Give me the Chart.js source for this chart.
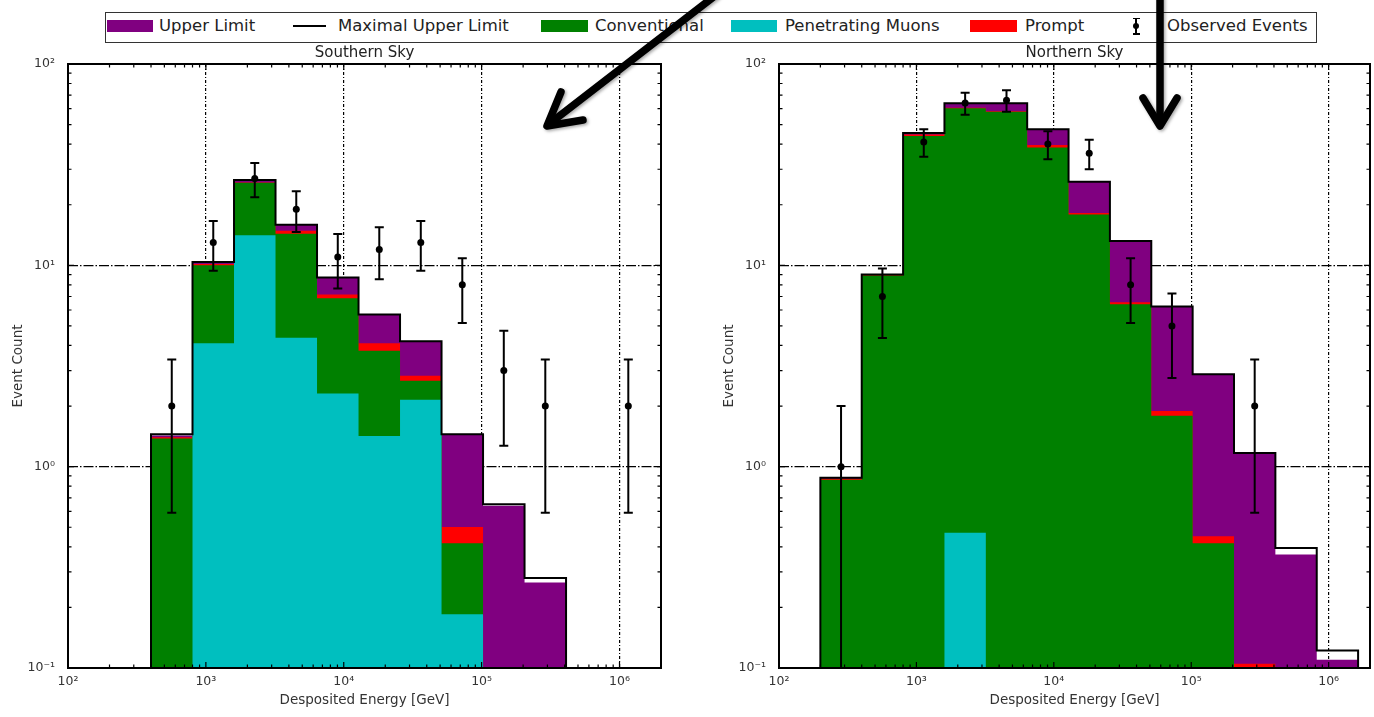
<!DOCTYPE html>
<html lang="en">
<head>
<meta charset="UTF-8">
<title>Event Count vs Deposited Energy</title>
<script src="https://cdn.jsdelivr.net/npm/chart.js@4.4.0/dist/chart.umd.min.js"></script>
<style>
  body { margin: 0; width: 1374px; height: 717px; background: #fff; position: relative; overflow: hidden; font-family: 'DejaVu Sans', sans-serif; }
  .panel { position: absolute; top: 40px; height: 677px; }
  #south-wrap { left: 0; width: 690px; }
  #north-wrap { left: 690px; width: 684px; }
  #legend-box { position: absolute; left: 105px; top: 12px; width: 1212px; height: 31px; border: 1.5px solid #333; box-sizing: border-box; }
  .lg-text { position: absolute; top: 17px; line-height: 18px; font-size: 16.5px; color: #222; white-space: nowrap; }
  .lg-swatch { position: absolute; top: 19.5px; height: 12.5px; }
  .lg-line { position: absolute; top: 25px; height: 1.5px; width: 33px; background: #000; }
  #arrows { position: absolute; left: 0; top: 0; pointer-events: none; }
</style>
</head>
<body>
  <div id="legend-box"></div>
  <div class="lg-swatch" style="left:107px;width:46px;background:#800080"></div>
  <div class="lg-text" style="left:159px">Upper Limit</div>
  <div class="lg-line" style="left:293px"></div>
  <div class="lg-text" style="left:338px">Maximal Upper Limit</div>
  <div class="lg-swatch" style="left:541px;width:47px;background:#008000"></div>
  <div class="lg-text" style="left:595px">Conventional</div>
  <div class="lg-swatch" style="left:731px;width:46px;background:#00bfbf"></div>
  <div class="lg-text" style="left:785px">Penetrating Muons</div>
  <div class="lg-swatch" style="left:970px;width:47px;background:#ff0000"></div>
  <div class="lg-text" style="left:1025px">Prompt</div>
  <!-- error bar marker -->
  <div style="position:absolute;left:1135.25px;top:18px;width:1.5px;height:16px;background:#000"></div>
  <div style="position:absolute;left:1132.5px;top:17.5px;width:7px;height:1.5px;background:#000"></div>
  <div style="position:absolute;left:1132.5px;top:33px;width:7px;height:1.5px;background:#000"></div>
  <div style="position:absolute;left:1133px;top:23px;width:6px;height:6px;border-radius:3px;background:#000"></div>
  <div class="lg-text" style="left:1167px">Observed Events</div>

  <div class="panel" id="south-wrap"><canvas id="southChart"></canvas></div>
  <div class="panel" id="north-wrap"><canvas id="northChart"></canvas></div>

  <svg id="arrows" width="1374" height="717">
    <defs>
      <filter id="shadow" x="-20%" y="-20%" width="140%" height="140%">
        <feDropShadow dx="1.5" dy="1.5" stdDeviation="1.5" flood-color="#000" flood-opacity="0.35"/>
      </filter>
    </defs>
    <g stroke="#000" stroke-width="7.5" stroke-linecap="round" stroke-linejoin="round" fill="none" filter="url(#shadow)">
      <line x1="716" y1="-5" x2="549" y2="124"/>
      <polyline points="561,92 547,126 583,120"/>
      <line x1="1160" y1="-5" x2="1160" y2="122"/>
      <polyline points="1143,98 1160,126 1177,98"/>
    </g>
  </svg>

<script>
// axis ticks (decades)
const xTicks = [1e2, 1e3, 1e4, 1e5, 1e6];
const yTicks = [0.1, 1, 10, 100];

// Southern sky: bin edges [GeV], stacked contributions per bin
const southEdges  = [400, 800, 1600, 3200, 6400, 12800, 25600, 51200, 102400, 204800, 409600, 819200, 1638400];
const southMuon   = [0, 4.1, 14.1, 4.37, 2.31, 1.42, 2.15, 0.185, 0, 0];
const southConv   = [1.38, 5.9, 11.6, 10.0, 4.56, 2.35, 0.52, 0.231, 0, 0];
const southPrompt = [0.02, 0.15, 0.1, 0.5, 0.29, 0.33, 0.16, 0.086, 0, 0];
const southAstro  = [0.03, 0.25, 0.7, 1.0, 1.52, 1.57, 1.37, 0.94, 0.64, 0.266];
const southMaxUL  = [1.45, 10.4, 26.5, 15.9, 8.7, 5.7, 4.2, 1.45, 0.65, 0.28];
const southObs    = [2, 13, 27, 19, 11, 12, 13, 8, 3, 2, null, 2];
const southObsErr = [1.41, 3.61, 5.2, 4.36, 3.32, 3.46, 3.61, 2.83, 1.73, 1.41, null, 1.41];

// Northern sky
const northEdges  = [200, 400, 800, 1600, 3200, 6400, 12800, 25600, 51200, 102400, 204800, 409600, 819200, 1638400];
const northMuon   = [0, 0, 0, 0.47, 0, 0, 0, 0, 0, 0, 0, 0, 0];
const northConv   = [0.86, 8.9, 43.9, 59.8, 58.0, 38.5, 17.9, 6.41, 1.79, 0.416, 0.09, 0, 0];
const northPrompt = [0.01, 0.05, 0.8, 0.3, 0.3, 1.1, 0.3, 0.15, 0.1, 0.035, 0.015, 0, 0];
const northAstro  = [0.01, 0.05, 0.7, 3.3, 5.6, 7.8, 7.8, 6.64, 4.35, 2.43, 1.065, 0.366, 0.11];
const northMaxUL  = [0.88, 9.0, 45.4, 63.9, 63.9, 47.4, 26.0, 13.2, 6.24, 2.88, 1.17, 0.395, 0.122];
const northObs    = [1, 7, 41, 64, 66, 40, 36, 8, 5, null, 2, null, null];
const northObsErr = [1.0, 2.65, 6.4, 8.0, 8.12, 6.32, 6.0, 2.83, 2.24, null, 1.41, null, null];

const COLORS = { astro: '#800080', conv: '#008000', muon: '#00bfbf', prompt: '#ff0000' };
const FLOOR = 0.01; // below the axis, for empty bins
const FONT = "'DejaVu Sans', sans-serif";
const SUP = { '-': '⁻', '0': '⁰', '1': '¹', '2': '²', '3': '³', '4': '⁴', '5': '⁵', '6': '⁶' };

function decadeLabel(v) {
    const e = String(Math.round(Math.log10(v)));
    return '10' + e.split('').map(c => SUP[c]).join('');
}

function cumulate(...parts) {
    return parts[0].map((_, i) => parts.reduce((s, p) => s + p[i], 0));
}

// histogram outline as step points at the bin edges
function stepPoints(edges, tops) {
    const pts = [{ x: edges[0], y: FLOOR }];
    tops.forEach((v, i) => pts.push({ x: edges[i], y: v > 0.0001 ? v : FLOOR }));
    pts.push({ x: edges[tops.length], y: FLOOR });
    return pts;
}

function obsPoints(edges, obs, err) {
    const pts = [];
    obs.forEach((n, i) => {
        if (n === null) return;
        pts.push({ x: Math.sqrt(edges[i] * edges[i + 1]), y: n, err: err[i] });
    });
    return pts;
}

function buildDatasets(edges, muon, conv, prompt, astro, maxUL, obs, err) {
    const fillSet = (label, tops, color, order) => ({
        label, data: stepPoints(edges, tops), stepped: 'before', fill: 'start',
        backgroundColor: color, borderColor: 'transparent', borderWidth: 0, pointRadius: 0, order
    });
    return [
        { label: 'Observed Events', data: obsPoints(edges, obs, err), showLine: false,
          pointRadius: 3.5, pointBackgroundColor: '#000', pointBorderColor: '#000', pointBorderWidth: 0, order: 0 },
        { label: 'Maximal Upper Limit', data: stepPoints(edges, maxUL), stepped: 'before', fill: false,
          borderColor: '#000', borderWidth: 2, pointRadius: 0, order: 1 },
        fillSet('Penetrating Muons', cumulate(muon), COLORS.muon, 2),
        fillSet('Conventional', cumulate(muon, conv), COLORS.conv, 3),
        fillSet('Prompt', cumulate(muon, conv, prompt), COLORS.prompt, 4),
        fillSet('Upper Limit', cumulate(muon, conv, prompt, astro), COLORS.astro, 5)
    ];
}

// frame with inward minor ticks, plus error bars on observed points
const framePlugin = {
    id: 'frame',
    afterDraw(chart) {
        const { ctx, chartArea: a, scales: { x, y } } = chart;
        ctx.save();
        ctx.strokeStyle = '#000';
        ctx.lineWidth = 1.2;
        ctx.beginPath();
        const logTicks = (scale, fn) => {
            const k0 = Math.floor(Math.log10(scale.min)), k1 = Math.ceil(Math.log10(scale.max));
            for (let k = k0; k <= k1; k++) {
                for (let m = 1; m <= 9; m++) {
                    const v = m * Math.pow(10, k);
                    if (v <= scale.min * 1.0001 || v >= scale.max * 0.9999) continue;
                    fn(scale.getPixelForValue(v), m === 1 ? 6 : 3.5);
                }
            }
        };
        logTicks(x, (px, len) => {
            ctx.moveTo(px, a.bottom); ctx.lineTo(px, a.bottom - len);
            ctx.moveTo(px, a.top); ctx.lineTo(px, a.top + len);
        });
        logTicks(y, (py, len) => {
            ctx.moveTo(a.left, py); ctx.lineTo(a.left + len, py);
            ctx.moveTo(a.right, py); ctx.lineTo(a.right - len, py);
        });
        ctx.stroke();

        // error bars
        ctx.lineWidth = 2;
        ctx.beginPath();
        chart.data.datasets[0].data.forEach(p => {
            const px = x.getPixelForValue(p.x);
            const yHi = y.getPixelForValue(p.y + p.err);
            const lo = p.y - p.err;
            const yLo = lo > y.min ? y.getPixelForValue(lo) : a.bottom;
            ctx.moveTo(px, yHi); ctx.lineTo(px, yLo);
            ctx.moveTo(px - 4.5, yHi); ctx.lineTo(px + 4.5, yHi);
            if (lo > y.min) { ctx.moveTo(px - 4.5, yLo); ctx.lineTo(px + 4.5, yLo); }
        });
        ctx.stroke();

        ctx.lineWidth = 2;
        ctx.strokeRect(a.left, a.top, a.right - a.left, a.bottom - a.top);
        ctx.restore();
    }
};

function makeChart(canvasId, title, datasets, yWidth, yTitlePad, rightPad) {
    const tickFont = { family: FONT, size: 12.5 };
    const axisTitleFont = { family: FONT, size: 13.5 };
    return new Chart(document.getElementById(canvasId), {
        type: 'line',
        data: { datasets },
        options: {
            responsive: true,
            maintainAspectRatio: false,
            animation: false,
            events: [],
            layout: { padding: { left: 0, right: rightPad, top: 0, bottom: 0 } },
            plugins: {
                legend: { display: false },
                tooltip: { enabled: false },
                title: {
                    display: true, text: title, fullSize: false, color: '#222',
                    font: { family: FONT, size: 15, weight: 'normal' },
                    padding: { top: 4, bottom: 2 }
                }
            },
            scales: {
                x: {
                    type: 'logarithmic', min: 100, max: 2e6, z: 1,
                    afterBuildTicks: s => { s.ticks = xTicks.map(v => ({ value: v })); },
                    afterFit: s => { s.height = 49; },
                    ticks: { autoSkip: false, maxRotation: 0, padding: 6, color: '#333', font: tickFont,
                             callback: v => decadeLabel(v) },
                    grid: { color: '#000', lineWidth: 1.2, drawTicks: false },
                    border: { display: false, dash: [3, 2, 1, 2] },
                    title: { display: true, text: 'Desposited Energy [GeV]', color: '#333', font: axisTitleFont,
                             padding: { top: 0, bottom: 8 } }
                },
                y: {
                    type: 'logarithmic', min: 0.1, max: 100, z: 1,
                    afterBuildTicks: s => { s.ticks = yTicks.map(v => ({ value: v })); },
                    afterFit: s => { s.width = yWidth; },
                    ticks: { autoSkip: false, padding: 13, color: '#333', font: tickFont,
                             callback: v => decadeLabel(v) },
                    grid: { color: '#000', lineWidth: 1.2, drawTicks: false },
                    border: { display: false, dash: [10, 2, 1.5, 2] },
                    title: { display: true, text: 'Event Count', color: '#333', font: axisTitleFont,
                             padding: { top: yTitlePad, bottom: 0 } }
                }
            }
        },
        plugins: [framePlugin]
    });
}

makeChart('southChart', 'Southern Sky',
    buildDatasets(southEdges, southMuon, southConv, southPrompt, southAstro, southMaxUL, southObs, southObsErr),
    68, 10, 29);
makeChart('northChart', 'Northern Sky',
    buildDatasets(northEdges, northMuon, northConv, northPrompt, northAstro, northMaxUL, northObs, northObsErr),
    89, 31, 3);
</script>
</body>
</html>
